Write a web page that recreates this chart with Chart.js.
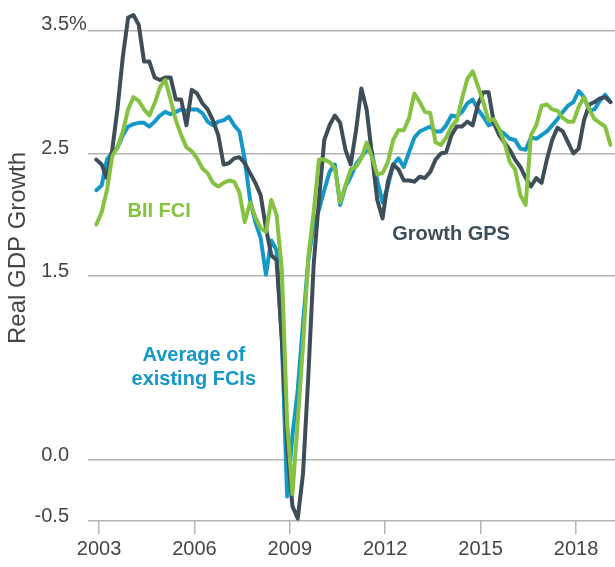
<!DOCTYPE html>
<html>
<head>
<meta charset="utf-8">
<script src="https://cdn.jsdelivr.net/npm/chart.js@4.4.1/dist/chart.umd.min.js"></script>
<style>
  html, body { margin: 0; padding: 0; background: #fff; }
  #wrap { position: relative; width: 615px; height: 567px; }
</style>
</head>
<body>
<div id="wrap"><canvas id="gdp-chart"></canvas></div>
<script>
// every other month, Dec 2002 .. Feb 2019
const months = [
	"2002-12",
	"2003-02", "2003-04", "2003-06", "2003-08", "2003-10", "2003-12",
	"2004-02", "2004-04", "2004-06", "2004-08", "2004-10", "2004-12",
	"2005-02", "2005-04", "2005-06", "2005-08", "2005-10", "2005-12",
	"2006-02", "2006-04", "2006-06", "2006-08", "2006-10", "2006-12",
	"2007-02", "2007-04", "2007-06", "2007-08", "2007-10", "2007-12",
	"2008-02", "2008-04", "2008-06", "2008-08", "2008-10", "2008-12",
	"2009-02", "2009-04", "2009-06", "2009-08", "2009-10", "2009-12",
	"2010-02", "2010-04", "2010-06", "2010-08", "2010-10", "2010-12",
	"2011-02", "2011-04", "2011-06", "2011-08", "2011-10", "2011-12",
	"2012-02", "2012-04", "2012-06", "2012-08", "2012-10", "2012-12",
	"2013-02", "2013-04", "2013-06", "2013-08", "2013-10", "2013-12",
	"2014-02", "2014-04", "2014-06", "2014-08", "2014-10", "2014-12",
	"2015-02", "2015-04", "2015-06", "2015-08", "2015-10", "2015-12",
	"2016-02", "2016-04", "2016-06", "2016-08", "2016-10", "2016-12",
	"2017-02", "2017-04", "2017-06", "2017-08", "2017-10", "2017-12",
	"2018-02", "2018-04", "2018-06", "2018-08", "2018-10", "2018-12",
	"2019-02",
];

const growthGps = [
	2.45, 2.41, 2.30, 2.53, 2.87, 3.29, 3.61, 3.63, 3.55, 3.25,
	3.25, 3.12, 3.10, 3.12, 3.12, 2.94, 2.94, 2.73, 3.02, 2.99,
	2.91, 2.86, 2.77, 2.65, 2.41, 2.42, 2.46, 2.47, 2.42, 2.34,
	2.26, 2.16, 1.89, 1.67, 1.63, 0.98, 0.12, -0.38, -0.48, -0.11,
	0.69, 1.59, 2.12, 2.61, 2.73, 2.81, 2.75, 2.53, 2.41, 2.69,
	3.03, 2.86, 2.49, 2.12, 1.97, 2.27, 2.41, 2.37, 2.28, 2.28,
	2.27, 2.31, 2.30, 2.35, 2.45, 2.50, 2.51, 2.65, 2.72, 2.72,
	2.76, 2.73, 2.90, 3.00, 3.00, 2.75, 2.65, 2.59, 2.53, 2.45,
	2.39, 2.30, 2.23, 2.30, 2.26, 2.45, 2.61, 2.71, 2.68, 2.59,
	2.50, 2.54, 2.77, 2.90, 2.92, 2.95, 2.96, 2.92,
];

const averageFcis = [
	2.20, 2.24, 2.45, 2.51, 2.55, 2.65, 2.72, 2.74, 2.75, 2.75,
	2.72, 2.76, 2.81, 2.84, 2.82, 2.84, 2.86, 2.85, 2.86, 2.86,
	2.83, 2.76, 2.73, 2.76, 2.77, 2.80, 2.73, 2.68, 2.45, 2.12,
	1.94, 1.81, 1.51, 1.79, 1.71, 0.98, -0.30, 0.20, 0.57, 1.12,
	1.63, 1.92, 2.04, 2.20, 2.35, 2.41, 2.08, 2.23, 2.31, 2.41,
	2.47, 2.53, 2.51, 2.28, 2.10, 2.23, 2.41, 2.46, 2.39, 2.51,
	2.63, 2.68, 2.70, 2.72, 2.68, 2.68, 2.73, 2.81, 2.80, 2.84,
	2.91, 2.94, 2.86, 2.80, 2.73, 2.75, 2.69, 2.66, 2.62, 2.61,
	2.54, 2.53, 2.63, 2.62, 2.65, 2.68, 2.73, 2.78, 2.84, 2.89,
	2.92, 3.01, 2.96, 2.85, 2.86, 2.93, 2.98, 2.92,
];

const biiFci = [
	1.92, 2.02, 2.20, 2.48, 2.55, 2.68, 2.86, 2.96, 2.93, 2.86,
	2.81, 2.91, 3.04, 3.10, 2.94, 2.77, 2.65, 2.55, 2.52, 2.46,
	2.38, 2.34, 2.26, 2.23, 2.26, 2.28, 2.27, 2.18, 1.94, 2.10,
	1.98, 1.89, 1.86, 2.12, 2.00, 1.55, 0.30, -0.28, 0.32, 0.94,
	1.66, 2.02, 2.45, 2.45, 2.43, 2.38, 2.10, 2.24, 2.37, 2.39,
	2.46, 2.59, 2.47, 2.33, 2.34, 2.43, 2.61, 2.69, 2.69, 2.79,
	2.99, 2.92, 2.84, 2.83, 2.59, 2.57, 2.63, 2.72, 2.77, 2.95,
	3.11, 3.17, 3.05, 2.92, 2.77, 2.78, 2.70, 2.59, 2.43, 2.37,
	2.16, 2.08, 2.65, 2.73, 2.89, 2.90, 2.86, 2.85, 2.79, 2.76,
	2.76, 2.88, 2.96, 2.86, 2.78, 2.75, 2.72, 2.57,
];

const yTicks = [-0.5, 0, 1.5, 2.5, 3.5];
const xTicks = [2003, 2006, 2009, 2012, 2015, 2018];

const FONT = '"Liberation Sans", Arial, sans-serif';
const TEXT = "#454545";
const GREY = "#3e4e59";
const BLUE = "#1398c8";
const GREEN = "#85c242";

function toYear(month) {
	const [y, m] = month.split("-").map(Number);
	return y + (m - 1) / 12;
}

function toPoints(values) {
	return months.map((month, i) => ({ x: toYear(month), y: values[i] }));
}

// series names written on the plot instead of a legend: [lines, year, value, colour]
const seriesNotes = [
	[["BII FCI"], 2004.89, 2.03, GREEN],
	[["Growth GPS"], 2014.07, 1.84, GREY],
	[["Average of", "existing FCIs"], 2005.98, 0.85, BLUE],
];

const textLayer = {
	id: "textLayer",
	afterDraw(chart) {
		const { ctx, scales } = chart;
		ctx.save();

		// y tick labels sit just above their gridlines, "%" only on the top one
		ctx.font = `20px ${FONT}`;
		ctx.fillStyle = TEXT;
		ctx.textBaseline = "alphabetic";
		yTicks.forEach((v) => {
			const py = scales.y.getPixelForValue(v) + (v === 3.5 ? -1 : 1);
			ctx.textAlign = "right";
			ctx.fillText(v.toFixed(1), 69, py);
			if (v === 3.5) {
				ctx.textAlign = "left";
				ctx.fillText("%", 69, py);
			}
		});

		// axis title
		ctx.save();
		ctx.translate(18, 248);
		ctx.rotate(-Math.PI / 2);
		ctx.font = `24px ${FONT}`;
		ctx.textAlign = "center";
		ctx.textBaseline = "middle";
		ctx.fillText("Real GDP Growth", 0, 0);
		ctx.restore();

		ctx.font = `bold 20px ${FONT}`;
		ctx.textAlign = "center";
		ctx.textBaseline = "middle";
		seriesNotes.forEach(([lines, year, value, color]) => {
			const px = scales.x.getPixelForValue(year);
			const py = scales.y.getPixelForValue(value);
			ctx.fillStyle = color;
			lines.forEach((line, i) => ctx.fillText(line, px, py + i * 24));
		});

		ctx.restore();
	},
};

new Chart(document.getElementById("gdp-chart"), {
	type: "line",
	data: {
		datasets: [
			{ label: "BII FCI", data: toPoints(biiFci), borderColor: GREEN, order: 1 },
			{ label: "Growth GPS", data: toPoints(growthGps), borderColor: GREY, order: 2 },
			{ label: "Average of existing FCIs", data: toPoints(averageFcis), borderColor: BLUE, order: 3 },
		],
	},
	options: {
		responsive: true,
		maintainAspectRatio: false,
		animation: false,
		layout: { padding: 0 },
		datasets: {
			line: {
				borderWidth: 4,
				pointRadius: 0,
				tension: 0,
				borderJoinStyle: "round",
				borderCapStyle: "round",
			},
		},
		plugins: {
			legend: { display: false },
			tooltip: { enabled: false },
		},
		scales: {
			x: {
				type: "linear",
				min: 2002.654,
				max: 2019.226,
				afterBuildTicks: (scale) => {
					scale.ticks = xTicks.map((value) => ({ value }));
				},
				afterFit: (scale) => {
					scale.height = 46;
				},
				border: { display: false },
				grid: {
					drawOnChartArea: false,
					drawTicks: true,
					tickLength: 13,
					color: "#b4b4b4",
					lineWidth: 1.5,
				},
				ticks: {
					autoSkip: false,
					maxRotation: 0,
					padding: 3,
					color: TEXT,
					font: { family: FONT, size: 20 },
					callback: (value) => String(value),
				},
			},
			y: {
				min: -0.5,
				max: 3.753,
				afterBuildTicks: (scale) => {
					scale.ticks = yTicks.map((value) => ({ value }));
				},
				afterFit: (scale) => {
					scale.width = 88;
				},
				border: { display: false },
				grid: {
					drawTicks: false,
					color: "#b4b4b4",
					lineWidth: 1.5,
				},
				ticks: { display: false },
			},
		},
	},
	plugins: [textLayer],
});
</script>
</body>
</html>
